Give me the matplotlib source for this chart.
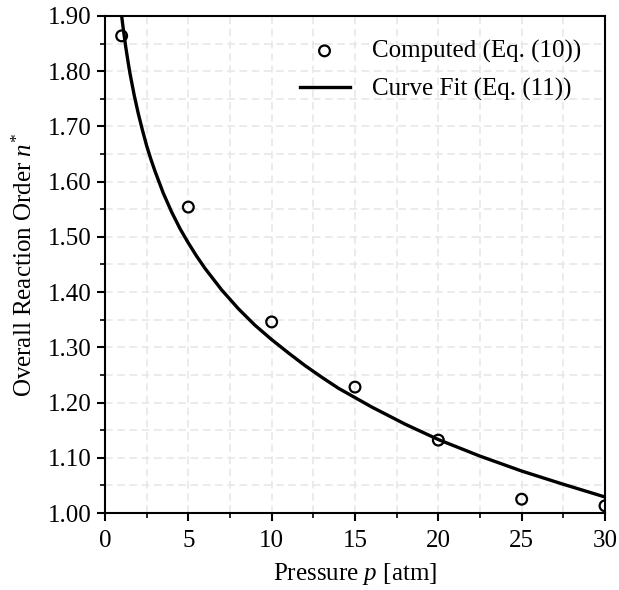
import numpy as np
import matplotlib
matplotlib.use("Agg")
import matplotlib.pyplot as plt
from matplotlib.ticker import MultipleLocator, FormatStrFormatter

# Computed values (Eq. (10))
p_comp = [1, 5, 10, 15, 20, 25, 30]
n_comp = [1.864, 1.554, 1.346, 1.228, 1.132, 1.025, 1.013]

# Curve fit (Eq. (11))
p_fit = [0.9, 1, 1.1, 1.25, 1.4, 1.5, 1.75, 2, 2.25, 2.5, 2.75, 3, 3.5, 4, 4.5, 5, 5.5, 6, 7, 8, 9,
         10, 11, 12, 13, 14, 16, 18, 20, 22.5, 25, 27.5, 30]
n_fit = [1.927, 1.900, 1.876, 1.843, 1.814, 1.796, 1.757, 1.723, 1.693, 1.665, 1.641, 1.619,
         1.579, 1.545, 1.515, 1.489, 1.465, 1.443, 1.404, 1.370, 1.340,
         1.314, 1.290, 1.267, 1.246, 1.226, 1.192, 1.161, 1.133, 1.103, 1.076, 1.052, 1.029]

plt.rcParams['font.family'] = ['Liberation Serif', 'DejaVu Serif']
plt.rcParams['mathtext.fontset'] = 'custom'
plt.rcParams['mathtext.rm'] = 'Liberation Serif'
plt.rcParams['mathtext.it'] = 'Liberation Serif:italic'

fig = plt.figure(figsize=(6.19, 5.90), dpi=100)
ax = fig.add_axes([0.1696, 0.1305, 0.8078, 0.8424])

ax.grid(True, which='both', color='#e6e6e6', linestyle=(0, (5, 3)), linewidth=1.1, zorder=0)
ax.set_axisbelow(True)

ax.scatter(p_comp, n_comp, s=60, facecolors='none', edgecolors='black', linewidths=1.6,
           label='Computed (Eq. (10))', zorder=3)
ax.plot(p_fit, n_fit, color='black', linewidth=2.4, label='Curve Fit (Eq. (11))', zorder=2)

ax.set_xlim(0, 30)
ax.set_ylim(1.0, 1.9)
ax.xaxis.set_major_locator(MultipleLocator(5))
ax.xaxis.set_minor_locator(MultipleLocator(2.5))
ax.yaxis.set_major_locator(MultipleLocator(0.1))
ax.yaxis.set_minor_locator(MultipleLocator(0.05))
ax.yaxis.set_major_formatter(FormatStrFormatter('%.2f'))

ax.tick_params(which='major', direction='out', length=6, width=1.5, labelsize=18, colors='black')
ax.tick_params(axis='x', which='major', pad=6)
ax.tick_params(which='minor', direction='out', length=3.5, width=1.2)
for s in ax.spines.values():
    s.set_linewidth(1.5)

ax.set_xlabel(r'Pressure $p$ [atm]', fontsize=18, labelpad=7)
ax.set_ylabel(r'Overall Reaction Order $n^{*}$', fontsize=18, labelpad=8)

leg = ax.legend(loc='upper right', frameon=False, fontsize=18, handlelength=2.0,
                borderaxespad=0.55, handletextpad=0.9, labelspacing=0.6)

fig.savefig('out.png', dpi=100)
